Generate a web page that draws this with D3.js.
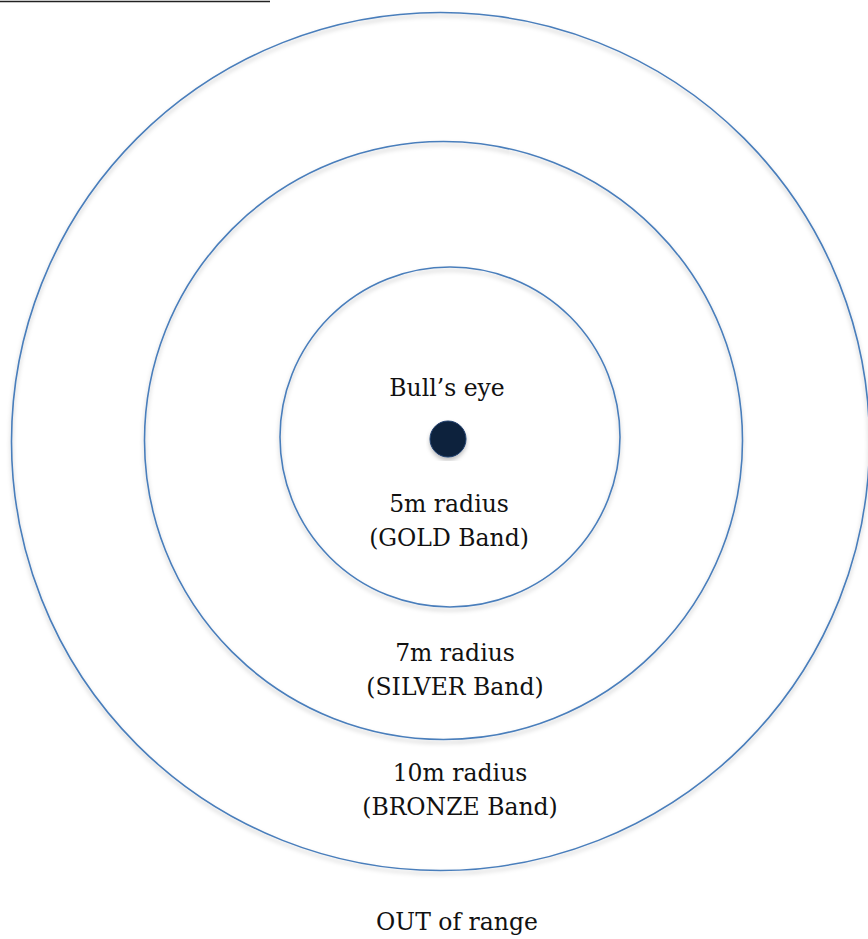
<!DOCTYPE html>
<html lang="en">
<head>
    <meta charset="UTF-8">
    <title>Bull's eye bands</title>
    <style>
        body { margin: 0; background: #fff; }
        svg { display: block; }
        .ring { fill: none; stroke: #4a7ebb; stroke-width: 1.6; }
        .lbl { font-family: "DejaVu Serif", serif; font-size: 23.5px; fill: #111; text-anchor: middle; }
    </style>
</head>
<body>
    <svg width="868" height="939"></svg>
    <script src="https://d3js.org/d3.v7.min.js"></script>
    <script>

        // data
        var bands = ["GOLD", "SILVER", "BRONZE"];
        var radiusM = [5, 7, 10];
        var centreLabel = "Bull\u2019s eye";
        var outsideLabel = "OUT of range";

        var svg = d3.select("svg");

        // ring size on the page (not to scale with metres in the original sketch)
        var ringR = d3.scaleOrdinal().domain(bands).range([170, 299, 429]);
        var ringCx = d3.scaleOrdinal().domain(bands).range([450, 443.5, 440.5]);
        var ringCy = d3.scaleOrdinal().domain(bands).range([437, 440.5, 441.5]);
        // where the two-line label sits: x centre, baseline of first line
        var labelX = d3.scaleOrdinal().domain(bands).range([449, 455, 460]);
        var labelY = d3.scaleOrdinal().domain(bands).range([512, 661, 781]);

        var defs = svg.append("defs");
        defs.append("filter")
            .attr("id", "shadow")
            .attr("x", "-10%").attr("y", "-10%")
            .attr("width", "120%").attr("height", "120%")
            .append("feDropShadow")
            .attr("dx", 0).attr("dy", 3)
            .attr("stdDeviation", 2)
            .attr("flood-color", "#000")
            .attr("flood-opacity", 0.25);

        // underline remnant at the very top
        svg.append("line")
            .attr("x1", 0).attr("x2", 270)
            .attr("y1", 1.5).attr("y2", 1.5)
            .attr("stroke", "#222")
            .attr("stroke-width", 1.5);

        var data = bands.map(function(b, i) { return {band: b, m: radiusM[i]}; });

        svg.selectAll(".ring")
            .data(data.slice().reverse())
            .enter().append("circle")
            .attr("class", "ring")
            .attr("filter", "url(#shadow)")
            .attr("cx", function(d) { return ringCx(d.band); })
            .attr("cy", function(d) { return ringCy(d.band); })
            .attr("r", function(d) { return ringR(d.band); });

        // bull's eye
        svg.append("circle")
            .attr("cx", 448)
            .attr("cy", 439)
            .attr("r", 18)
            .attr("fill", "#0f243e")
            .attr("stroke", "#1f3f6e")
            .attr("stroke-width", 1)
            .attr("filter", "url(#shadow)");

        svg.append("text")
            .attr("class", "lbl")
            .attr("x", 447)
            .attr("y", 396)
            .text(centreLabel);

        var g = svg.selectAll(".band-label")
            .data(data)
            .enter().append("g")
            .attr("class", "band-label");

        g.append("text")
            .attr("class", "lbl")
            .attr("x", function(d) { return labelX(d.band); })
            .attr("y", function(d) { return labelY(d.band); })
            .text(function(d) { return d.m + "m radius"; });

        g.append("text")
            .attr("class", "lbl")
            .attr("x", function(d) { return labelX(d.band); })
            .attr("y", function(d) { return labelY(d.band) + 34; })
            .text(function(d) { return "(" + d.band + " Band)"; });

        svg.append("text")
            .attr("class", "lbl")
            .attr("x", 457)
            .attr("y", 930)
            .text(outsideLabel);

    </script>
</body>
</html>
